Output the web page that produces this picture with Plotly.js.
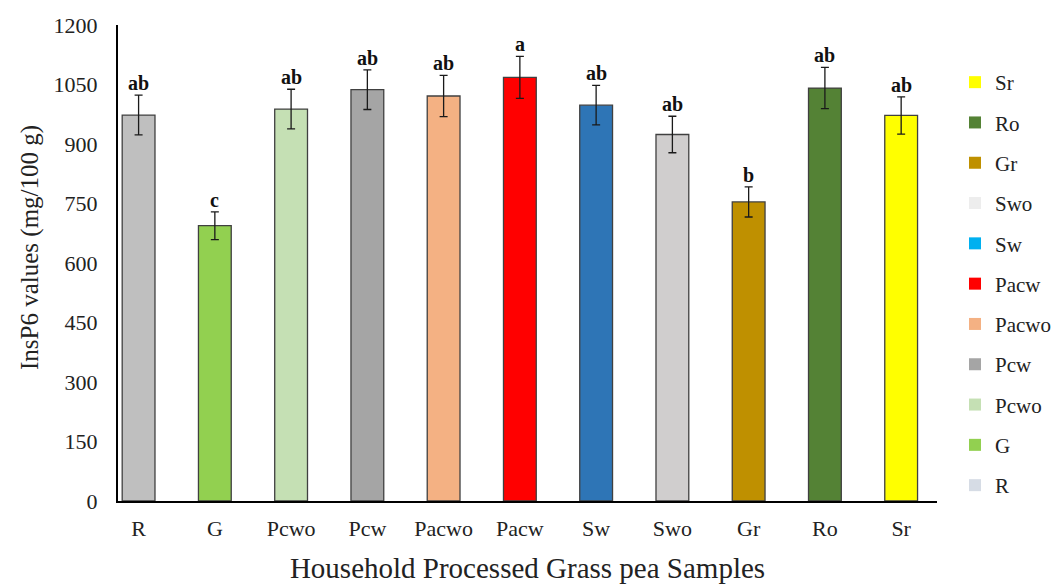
<!DOCTYPE html>
<html>
<head>
<meta charset="utf-8">
<script src="https://cdn.plot.ly/plotly-3.0.1.min.js"></script>
<style>html,body{margin:0;padding:0;background:#fff;}#chart{width:1054px;height:584px;}</style>
</head>
<body>
<div id="chart"></div>
<script>
const categories = ["R","G","Pcwo","Pcw","Pacwo","Pacw","Sw","Swo","Gr","Ro","Sr"];
const values = [973, 694, 988, 1037, 1021, 1068, 998, 924, 754, 1041, 972];
const errors = [50, 35, 50, 50, 52, 53, 50, 46, 38, 52, 47];
const letters = ["ab","c","ab","ab","ab","a","ab","ab","b","ab","ab"];
const barColors = ["#BFBFBF","#92D050","#C5E0B4","#A5A5A5","#F4B183","#FF0000","#2E75B6","#D0CECE","#BF9000","#548235","#FFFF00"];
const legendColors = ["#D6DCE5","#92D050","#C5E0B4","#A5A5A5","#F4B183","#FF0000","#00B0F0","#EDEDED","#BF9000","#548235","#FFFF00"];
const yTicks = [0,150,300,450,600,750,900,1050,1200];

const serif = "Liberation Serif, Times New Roman, serif";

const traces = [{
  type: "bar",
  x: categories,
  y: values,
  width: 0.43,
  marker: {color: barColors, line: {color: "#404040", width: 1.3}},
  error_y: {type: "data", array: errors, visible: true, color: "#1a1a1a", thickness: 1.3, width: 4},
  showlegend: false,
  hoverinfo: "x+y"
}];
// legend lists the samples in reverse order (Sr at top)
for (let i = categories.length - 1; i >= 0; i--) {
  traces.push({
    type: "bar",
    x: [null],
    y: [null],
    name: categories[i],
    legendgroup: categories[i],
    marker: {color: legendColors[i], line: {width: 0}},
    showlegend: true
  });
}

const annotations = categories.map((c, i) => ({
  x: c,
  y: values[i] + errors[i],
  xref: "x", yref: "y",
  text: "<b>" + letters[i] + "</b>",
  showarrow: false,
  yanchor: "bottom",
  yshift: -1,
  font: {family: serif, size: 20, color: "#111"}
}));
annotations.push({
  xref: "paper", yref: "paper",
  x: (30 - 118) / 819, y: (501 - 248) / 476,
  xanchor: "center", yanchor: "middle",
  textangle: -90,
  showarrow: false,
  text: "InsP6 values (mg/100 g)",
  font: {family: serif, size: 25, color: "#222"}
});

const layout = {
  width: 1054, height: 584,
  margin: {l: 118, r: 117, t: 25, b: 83, autoexpand: false},
  paper_bgcolor: "#fff", plot_bgcolor: "#fff",
  font: {family: serif, color: "#222"},
  barmode: "overlay",
  xaxis: {
    type: "category",
    range: [-0.27, 10.47],
    showline: true, linecolor: "#000", linewidth: 2,
    ticks: "", showgrid: false, zeroline: false,
    ticklabelstandoff: 7,
    tickfont: {family: serif, size: 22, color: "#222"},
    title: {text: "Household Processed Grass pea Samples", font: {family: serif, size: 29, color: "#222"}, standoff: 20}
  },
  yaxis: {
    range: [0, 1200],
    tickvals: yTicks,
    ticktext: yTicks.map(String),
    showline: true, linecolor: "#000", linewidth: 2,
    ticks: "", showgrid: false, zeroline: false,
    tickfont: {family: serif, size: 22, color: "#222"},
    ticklabelstandoff: 14
  },
  legend: {
    xref: "container", yref: "container",
    x: 955 / 1054, xanchor: "left", y: 1 - 62 / 584, yanchor: "top",
    maxheight: 560,
    traceorder: "grouped",
    tracegroupgap: 10,
    font: {family: serif, size: 21, color: "#222"},
    itemwidth: 30
  },
  annotations: annotations
};

Plotly.newPlot("chart", traces, layout, {displayModeBar: false, staticPlot: true});
</script>
</body>
</html>
